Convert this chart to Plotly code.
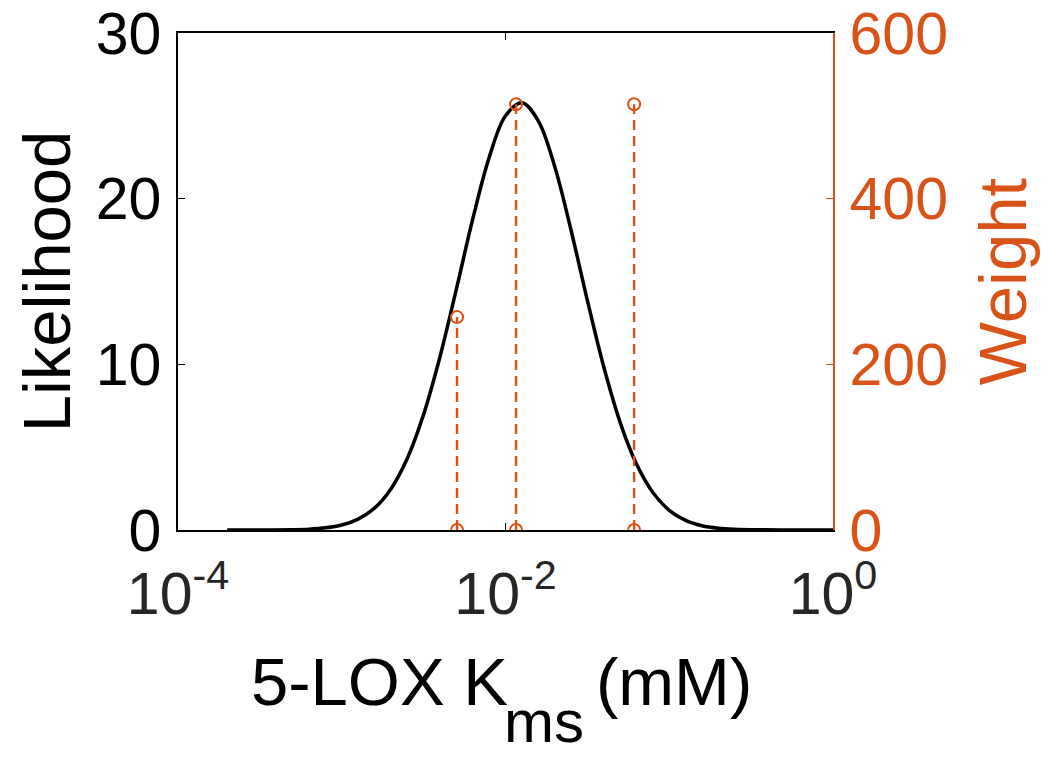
import plotly.graph_objects as go

# ---- data ----
# likelihood curve (x given as log10 of Kms in mM)
log_kms = [-3.7, -3.5, -3.3, -3.2, -3.1, -3.0, -2.9, -2.8, -2.7, -2.6, -2.5, -2.4,
           -2.3, -2.2, -2.1, -2.0, -1.9, -1.8, -1.7, -1.6, -1.5, -1.4, -1.3, -1.2,
           -1.1, -1.0, -0.9, -0.8, -0.7, -0.6, -0.5, -0.3, 0.0]
likelihood = [0.0, 0.002, 0.02, 0.05, 0.13, 0.30, 0.66, 1.32, 2.48, 4.32, 6.98, 10.46,
              14.54, 18.77, 22.48, 25.0, 25.79, 24.7, 21.96, 18.11, 13.86, 9.85, 6.5, 3.98,
              2.26, 1.19, 0.58, 0.26, 0.11, 0.044, 0.016, 0.001, 0.0]
kms = [10 ** e for e in log_kms]

# weighted data points (stems)
stem_kms = [0.00506, 0.0116, 0.061]
stem_weight = [257, 514, 514]

x_tickvals = [1e-4, 1e-2, 1]
x_ticktext = ["10<sup>-4</sup>", "10<sup>-2</sup>", "10<sup>0</sup>"]
y_ticks = [0, 10, 20, 30]
y2_ticks = [0, 200, 400, 600]

x_title_main = "5-LOX K"
x_title_sub = "ms"
x_title_unit = "(mM)"

ORANGE = "#D95319"
FONT = "Liberation Sans, Arial, sans-serif"
TICK_SIZE = 59
LABEL_SIZE = 67
SUB_SIZE = 60

# plot-area geometry (pixels)
W, H = 1057, 760
L, R, T, B = 178, 224, 33, 230
PW, PH = W - L - R, H - T - B


def px_x(x):
    return (x - L) / PW


def px_y(y):
    return (H - B - y) / PH


# build stem segments
sx, sy = [], []
for xv, wv in zip(stem_kms, stem_weight):
    sx += [xv, xv, None]
    sy += [0, wv, None]

fig = go.Figure()
fig.add_trace(go.Scatter(x=kms, y=likelihood, mode="lines",
                         line=dict(color="black", width=3.5, shape="spline"),
                         yaxis="y", showlegend=False))
fig.add_trace(go.Scatter(x=sx, y=sy, mode="lines+markers",
                         line=dict(color=ORANGE, width=2.4, dash="10px,6px"),
                         marker=dict(symbol="circle-open", size=12, color=ORANGE,
                                     line=dict(width=2, color=ORANGE)),
                         yaxis="y2", showlegend=False, connectgaps=False))

fig.update_layout(
    width=W, height=H,
    margin=dict(l=L, r=R, t=T, b=B, autoexpand=False),
    paper_bgcolor="white", plot_bgcolor="white",
    font=dict(family=FONT, size=TICK_SIZE, color="black"),
    xaxis=dict(type="log", range=[-4, 0], tickvals=x_tickvals, ticktext=x_ticktext,
               ticks="inside", ticklen=7, tickcolor="black", showline=True,
               linecolor="black", linewidth=1.5, mirror="ticks", showgrid=False,
               zeroline=False, ticklabelstandoff=11, automargin=False,
               tickfont=dict(size=TICK_SIZE, color="#262626")),
    yaxis=dict(range=[0, 30], tickvals=y_ticks, ticks="inside", ticklen=7,
               tickcolor="black", showline=True, linecolor="black", linewidth=1.5,
               showgrid=False, zeroline=False, ticklabelstandoff=3, automargin=False,
               tickfont=dict(size=TICK_SIZE, color="black"),
               title=dict(text="Likelihood", font=dict(size=LABEL_SIZE, color="black"),
                          standoff=3)),
    yaxis2=dict(range=[0, 600], tickvals=y2_ticks, overlaying="y", side="right",
                ticks="inside", ticklen=7, tickcolor=ORANGE, showline=True,
                linecolor=ORANGE, linewidth=1.5, showgrid=False, zeroline=False,
                ticklabelstandoff=3, automargin=False,
                tickfont=dict(size=TICK_SIZE, color=ORANGE),
                title=dict(text="Weight", font=dict(size=LABEL_SIZE, color=ORANGE),
                           standoff=32)),
)

# x-axis title with a lowered subscript (as in the reference)
fig.add_annotation(text=x_title_main, xref="paper", yref="paper",
                   x=px_x(510), y=px_y(681), xanchor="right", yanchor="middle",
                   showarrow=False, font=dict(size=LABEL_SIZE, color="black"))
fig.add_annotation(text=x_title_sub, xref="paper", yref="paper",
                   x=px_x(502), y=px_y(722), xanchor="left", yanchor="middle",
                   showarrow=False, font=dict(size=SUB_SIZE, color="black"))
fig.add_annotation(text=x_title_unit, xref="paper", yref="paper",
                   x=px_x(594), y=px_y(681), xanchor="left", yanchor="middle",
                   showarrow=False, font=dict(size=LABEL_SIZE, color="black"))

fig.write_html("out.html")
